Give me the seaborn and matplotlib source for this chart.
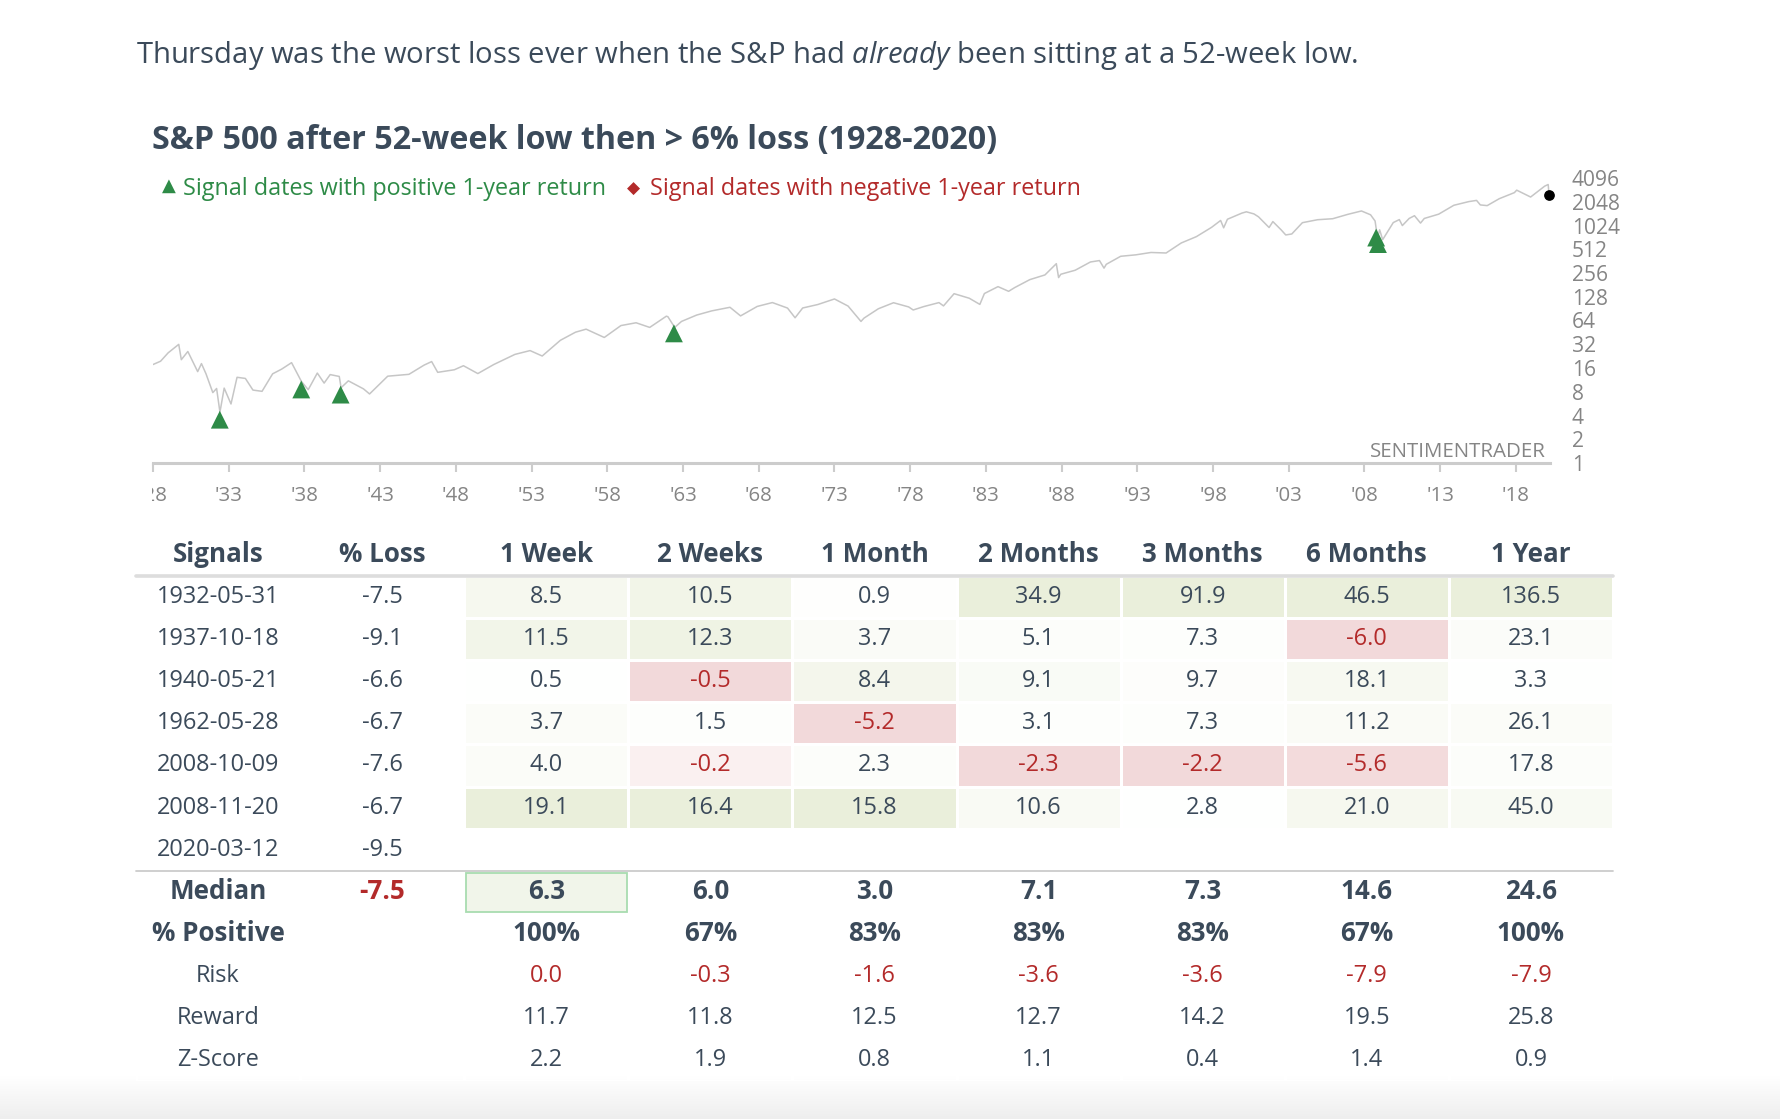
import numpy as np
import pandas as pd
import seaborn as sns
import matplotlib.pyplot as plt
from matplotlib.colors import LinearSegmentedColormap
from matplotlib.patches import Rectangle
from matplotlib.transforms import ScaledTranslation, Bbox, TransformedBbox

# S&P 500 level (decimal year, index level)
price_years = [
    1928.0, 1928.5, 1929.0, 1929.7, 1929.87, 1930.3, 1930.95, 1931.2, 1931.5, 1931.95,
    1932.2, 1932.42, 1932.7, 1933.15, 1933.55, 1934.1, 1934.6, 1935.2, 1935.9, 1936.5,
    1937.15, 1937.8, 1938.25, 1938.85, 1939.3, 1939.7, 1940.3, 1940.42, 1940.9, 1941.9,
    1942.3, 1943.5, 1944.9, 1945.9, 1946.4, 1946.8, 1947.9, 1948.5, 1949.45, 1950.5,
    1951.9, 1952.9, 1953.7, 1954.9, 1955.9, 1956.6, 1957.8, 1958.9, 1959.9, 1960.8,
    1961.9, 1962.0, 1962.45, 1962.9, 1963.9, 1964.9, 1965.9, 1966.1, 1966.8, 1967.9,
    1968.9, 1969.9, 1970.4, 1970.9, 1971.9, 1973.0, 1973.9, 1974.75, 1974.95, 1975.9,
    1976.9, 1977.9, 1978.2, 1978.9, 1979.9, 1980.2, 1980.9, 1981.9, 1982.6, 1982.9,
    1983.8, 1984.5, 1984.9, 1985.9, 1986.9, 1987.65, 1987.8, 1987.95, 1988.9, 1989.9,
    1990.5, 1990.8, 1990.95, 1991.9, 1992.9, 1993.9, 1994.9, 1995.9, 1996.9, 1997.9,
    1998.5, 1998.7, 1998.95, 1999.9, 2000.2, 2000.7, 2001.0, 2001.7, 2001.95, 2002.5,
    2002.8, 2003.2, 2003.9, 2004.9, 2005.9, 2006.9, 2007.8, 2008.4, 2008.7, 2008.78,
    2008.89, 2009.0, 2009.2, 2009.9, 2010.3, 2010.5, 2010.95, 2011.3, 2011.7, 2011.95,
    2012.9, 2013.9, 2014.9, 2015.4, 2015.65, 2016.1, 2016.9, 2017.9, 2018.05, 2018.97,
    2019.9, 2020.13, 2020.19,
]
price_levels = [
    17.7, 19.5, 24.9, 31.9, 20.4, 25.9, 14.4, 18.2, 13.5, 7.8,
    8.8, 4.4, 8.9, 5.6, 12.2, 11.8, 8.4, 8.1, 13.5, 15.5,
    18.7, 10.8, 8.5, 13.8, 10.3, 13.2, 12.5, 9.0, 11.0, 8.7,
    7.5, 12.6, 13.3, 17.4, 19.3, 14.1, 15.2, 17.1, 13.6, 17.7,
    23.8, 26.6, 22.7, 35.9, 45.5, 49.7, 39.0, 55.2, 59.9, 52.3,
    72.6, 71.5, 52.3, 62.3, 75.0, 84.8, 92.4, 94.1, 73.2, 96.5,
    108, 92, 69.3, 92.2, 102, 120, 97.5, 62.3, 68.6, 90.2,
    107.5, 95.1, 87, 96.1, 107.9, 98, 140, 122.6, 102.4, 140.6,
    172, 150, 167.2, 211, 242, 336, 224, 247, 277.7, 353,
    368, 295, 330, 417, 435, 466, 459, 615, 740, 970,
    1186, 957, 1229, 1469, 1527, 1436, 1320, 965, 1148, 900,
    777, 800, 1112, 1212, 1248, 1418, 1565, 1400, 1166, 910,
    752, 903, 677, 1115, 1217, 1022, 1258, 1363, 1099, 1258,
    1426, 1848, 2059, 2130, 1867, 1829, 2239, 2674, 2873, 2351,
    3231, 3386, 2480,
]

# signal dates with positive 1-year return
signal_years = [1932.41, 1937.79, 1940.39, 1962.40, 2008.77, 2008.89]
signal_levels = [4.47, 10.8, 9.3, 55.5, 910, 752]
last_year, last_level = 2020.19, 2480

# table
signals = ['1932-05-31', '1937-10-18', '1940-05-21', '1962-05-28',
           '2008-10-09', '2008-11-20', '2020-03-12']
pct_loss = [-7.5, -9.1, -6.6, -6.7, -7.6, -6.7, -9.5]
columns = ['1 Week', '2 Weeks', '1 Month', '2 Months', '3 Months', '6 Months', '1 Year']
week1 = [8.5, 11.5, 0.5, 3.7, 4.0, 19.1, np.nan]
week2 = [10.5, 12.3, -0.5, 1.5, -0.2, 16.4, np.nan]
month1 = [0.9, 3.7, 8.4, -5.2, 2.3, 15.8, np.nan]
month2 = [34.9, 5.1, 9.1, 3.1, -2.3, 10.6, np.nan]
month3 = [91.9, 7.3, 9.7, 7.3, -2.2, 2.8, np.nan]
month6 = [46.5, -6.0, 18.1, 11.2, -5.6, 21.0, np.nan]
year1 = [136.5, 23.1, 3.3, 26.1, 17.8, 45.0, np.nan]
median_loss = -7.5
median = [6.3, 6.0, 3.0, 7.1, 7.3, 14.6, 24.6]
pct_positive = [100, 67, 83, 83, 83, 67, 100]
risk = [0.0, -0.3, -1.6, -3.6, -3.6, -7.9, -7.9]
reward = [11.7, 11.8, 12.5, 12.7, 14.2, 19.5, 25.8]
zscore = [2.2, 1.9, 0.8, 1.1, 0.4, 1.4, 0.9]

returns = pd.DataFrame(dict(zip(columns, [week1, week2, month1, month2, month3, month6, year1])))

W, H = 1780, 1119
DARK = '#3b4a5a'
RED = '#b32a2a'
GREEN = '#2e8b47'
GRAY = '#858585'


def pt(px):
    return px * 0.72


sns.set_style('white')
plt.rcParams['font.family'] = ['Open Sans', 'DejaVu Sans']
plt.rcParams['mathtext.fontset'] = 'custom'
plt.rcParams['mathtext.rm'] = 'Open Sans'
plt.rcParams['mathtext.it'] = 'Open Sans:italic'

fig = plt.figure(figsize=(W / 100, H / 100), dpi=100)
fig.patch.set_facecolor('white')

# background overlay in pixel coordinates
bg = fig.add_axes([0, 0, 1, 1], zorder=-1)
bg.set_axis_off()
fade = LinearSegmentedColormap.from_list('fade', ['#ffffff', '#eeeeee'])
bg.imshow(np.linspace(0, 1, 60)[:, None], extent=[0, W, H, 1076], cmap=fade,
          aspect='auto', interpolation='bilinear')
bg.set_xlim(0, W)
bg.set_ylim(H, 0)

bg.text(136, 55, r'Thursday was the worst loss ever when the S&P had $\mathit{already}$ been sitting at a 52-week low.',
        fontsize=pt(29.3), color=DARK, va='center', ha='left')
bg.text(152, 140, 'S&P 500 after 52-week low then > 6% loss (1928-2020)',
        fontsize=pt(32.3), color=DARK, va='center', ha='left', weight='bold')
bg.text(169, 186, '▲', fontsize=pt(18), color=GREEN, va='center', ha='center',
        family=['DejaVu Sans'])
bg.text(183, 189, 'Signal dates with positive 1-year return', fontsize=pt(23.4),
        color=GREEN, va='center', ha='left')
bg.text(634, 189, '◆', fontsize=pt(17), color=RED, va='center', ha='center',
        family=['DejaVu Sans'])
bg.text(650, 189, 'Signal dates with negative 1-year return', fontsize=pt(23.4),
        color=RED, va='center', ha='left')

# price chart
x0, x1, y_top, y_bot = 153, 1550, 178, 463
ax = fig.add_axes([x0 / W, 1 - y_bot / H, (x1 - x0) / W, (y_bot - y_top) / H])
ax.set_facecolor('none')
sns.lineplot(x=price_years, y=price_levels, ax=ax, color='#c6c6c6', linewidth=1.1)
sns.scatterplot(x=signal_years, y=signal_levels, ax=ax, marker='^', s=165,
                color=GREEN, edgecolor='none', zorder=5)
tri = ax.collections[-1]
tri.set_offset_transform(ax.transData + ScaledTranslation(0, -8 / 100, fig.dpi_scale_trans))
ax.scatter([last_year], [last_level], s=45, color='black', zorder=6, clip_on=False)

ax.set_yscale('log', base=2)
ax.set_ylim(1, 4096)
ax.set_xlim(1928.0, 2020.25)
yt = [2 ** i for i in range(13)]
ax.set_yticks(yt)
ax.set_yticklabels([str(v) for v in yt])
ax.yaxis.tick_right()
ax.minorticks_off()
xt = list(range(1928, 2019, 5))
ax.set_xticks(xt)
ax.set_xticklabels([f"'{y % 100:02d}" for y in xt])
ax.tick_params(axis='y', length=0, pad=pt(22), labelsize=pt(21), labelcolor=GRAY)
ax.tick_params(axis='x', length=pt(9), width=1.5, color='#cccccc', direction='out',
               pad=pt(14), labelsize=pt(20.5), labelcolor=GRAY, bottom=True)
for s in ['top', 'right', 'left']:
    ax.spines[s].set_visible(False)
ax.spines['bottom'].set_color('#cccccc')
ax.spines['bottom'].set_linewidth(2.2)
ax.set_xlabel('')
ax.set_ylabel('')
clip = TransformedBbox(Bbox([[x0 / W - 0.0005, 0], [1, 1]]), fig.transFigure)
for lab in ax.get_xticklabels():
    lab.set_clip_on(True)
    lab.set_clip_box(clip)
ax.text(1546, 452, 'SENTIMENTRADER', transform=bg.transData, ha='right', va='center',
        fontsize=pt(20.5), color=GRAY)

# table
n_rows = len(signals) + 5
t_left, t_right, t_top, row_h = 136, 1613, 576, 42.1
tax = fig.add_axes([t_left / W, 1 - (t_top + n_rows * row_h) / H,
                    (t_right - t_left) / W, n_rows * row_h / H])
tax.set_facecolor('none')

intensity = np.full((n_rows, 9), np.nan)
for j, c in enumerate(columns):
    v = returns[c].to_numpy()
    hi, lo = np.nanmax(v), np.nanmin(v)
    inten = np.where(v > 0, v / hi, np.where(v < 0, -v / lo if lo < 0 else 0, 0))
    intensity[:len(v), j + 2] = np.where(np.isnan(v), np.nan, inten)

cell_cmap = LinearSegmentedColormap.from_list('cells', ['#f2d9da', '#ffffff', '#eaefdb'])
sns.heatmap(intensity, ax=tax, cmap=cell_cmap, vmin=-1, vmax=1, cbar=False,
            linewidths=1, linecolor='white', xticklabels=False, yticklabels=False)
tax.set_xlim(0, 9)
tax.set_ylim(n_rows, 0)
tax.set_axis_off()

tax.plot([0, 9], [0, 0], color='#dddddd', lw=2.6, clip_on=False)
tax.plot([0, 9], [7, 7], color='#cccccc', lw=1.3, clip_on=False)
tax.add_patch(Rectangle((2.01, 7.05), 0.98, 0.93, facecolor='#f1f5ea',
                        edgecolor='#a8dcb0', lw=1.3))

HDR = pt(26)
VAL = pt(23.5)


def cell(x, y, s, size, color=DARK, weight='normal'):
    tax.text(x, y, s, ha='center', va='center', fontsize=size, color=color,
             weight=weight, clip_on=False)


headers = ['Signals', '% Loss'] + columns
for j, h in enumerate(headers):
    cell(j + 0.5, -0.5, h, HDR, weight='bold')

for i, (sig, loss) in enumerate(zip(signals, pct_loss)):
    cell(0.5, i + 0.5, sig, VAL)
    cell(1.5, i + 0.5, f'{loss:.1f}', VAL)
    for j, c in enumerate(columns):
        v = returns[c].iloc[i]
        if np.isnan(v):
            continue
        cell(j + 2.5, i + 0.5, f'{v:.1f}', VAL, RED if v < 0 else DARK)

r = len(signals)
cell(0.5, r + 0.5, 'Median', HDR, weight='bold')
cell(1.5, r + 0.5, f'{median_loss:.1f}', HDR, RED, 'bold')
cell(0.5, r + 1.5, '% Positive', HDR, weight='bold')
cell(0.5, r + 2.5, 'Risk', VAL)
cell(0.5, r + 3.5, 'Reward', VAL)
cell(0.5, r + 4.5, 'Z-Score', VAL)
for j in range(len(columns)):
    cell(j + 2.5, r + 0.5, f'{median[j]:.1f}', HDR, weight='bold')
    cell(j + 2.5, r + 1.5, f'{pct_positive[j]}%', HDR, weight='bold')
    cell(j + 2.5, r + 2.5, f'{risk[j]:.1f}', VAL, RED)
    cell(j + 2.5, r + 3.5, f'{reward[j]:.1f}', VAL)
    cell(j + 2.5, r + 4.5, f'{zscore[j]:.1f}', VAL)

fig.savefig('out.png', dpi=100)
